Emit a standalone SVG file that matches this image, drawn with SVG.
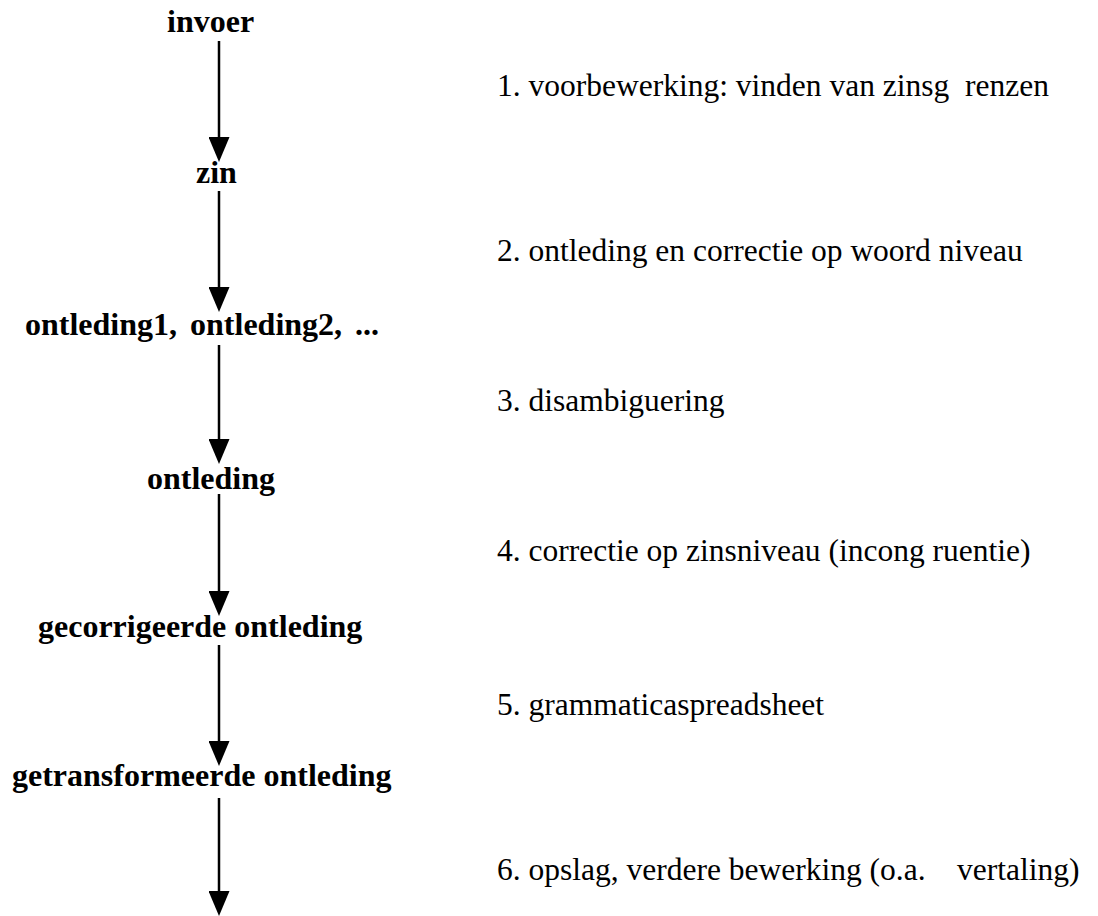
<svg xmlns="http://www.w3.org/2000/svg" width="1098" height="916" viewBox="0 0 1098 916">
<style>
.n{font-family:"Liberation Serif","Times New Roman",serif;font-weight:bold;font-size:32px;fill:#000}
.s{font-family:"Liberation Serif","Times New Roman",serif;font-size:31.5px;fill:#000;white-space:pre}
.c{stroke:#000;stroke-width:2.5;fill:none;marker-end:url(#ah)}
</style>
<defs>
<marker id="ah" viewBox="0 0 25 21" markerWidth="25" markerHeight="21" refX="0" refY="10.5" orient="auto" markerUnits="userSpaceOnUse">
<path d="M0,0 L25,10.5 L0,21 z" fill="#000"/>
</marker>
</defs>
<rect width="1098" height="916" fill="#fff"/>
<g id="connectors">
<line class="c" x1="219" y1="41" x2="219" y2="137"/>
<line class="c" x1="219" y1="191" x2="219" y2="287"/>
<line class="c" x1="219" y1="345" x2="219" y2="439"/>
<line class="c" x1="219" y1="494" x2="219" y2="591"/>
<line class="c" x1="219" y1="645" x2="219" y2="741"/>
<line class="c" x1="219" y1="798" x2="219" y2="891"/>
</g>
<g id="node-invoer"><text class="n" x="167" y="32">invoer</text></g>
<g id="node-zin"><text class="n" x="196" y="183">zin</text></g>
<g id="node-ontledingen"><text class="n" x="25" y="335" word-spacing="5">ontleding1, ontleding2, ...</text></g>
<g id="node-ontleding"><text class="n" x="147" y="489">ontleding</text></g>
<g id="node-gecorrigeerd"><text class="n" x="38" y="637">gecorrigeerde ontleding</text></g>
<g id="node-getransformeerd"><text class="n" x="12" y="786">getransformeerde ontleding</text></g>
<g id="steps">
<text class="s" x="497" y="96" xml:space="preserve">1. voorbewerking: vinden van zinsg  renzen</text>
<text class="s" x="497" y="261">2. ontleding en correctie op woord niveau</text>
<text class="s" x="497" y="411">3. disambiguering</text>
<text class="s" x="497" y="561" xml:space="preserve">4. correctie op zinsniveau (incong ruentie)</text>
<text class="s" x="497" y="715">5. grammaticaspreadsheet</text>
<text class="s" x="497" y="880" xml:space="preserve">6. opslag, verdere bewerking (o.a.    vertaling)</text>
</g>
</svg>
